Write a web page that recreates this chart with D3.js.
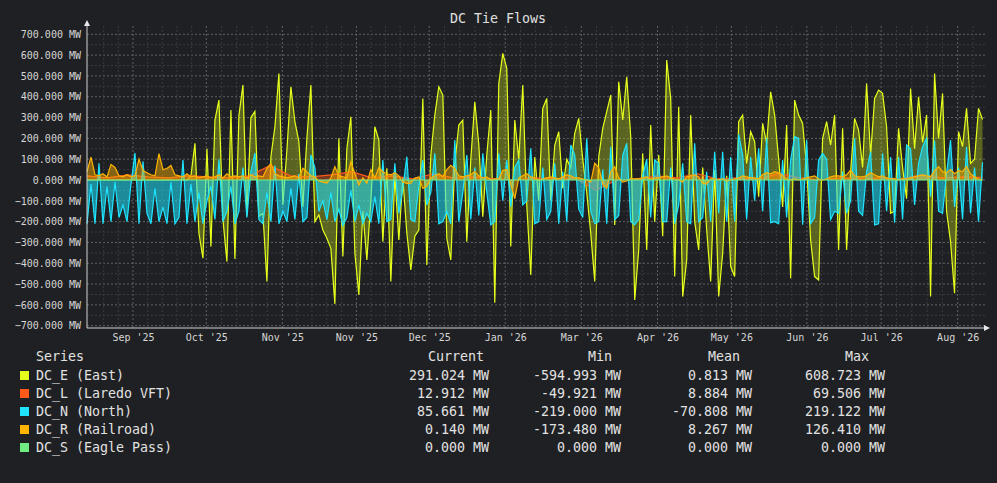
<!DOCTYPE html>
<html>
<head>
<meta charset="utf-8">
<title>DC Tie Flows</title>
<script src="https://cdn.jsdelivr.net/npm/d3@7"></script>
<style>
    html, body { margin: 0; padding: 0; background: #1f2023; }
    svg { display: block; font-family: "DejaVu Sans Mono", monospace; }
    .axis path { display: none; }
    .axis text { fill: #d6d6d6; font-size: 10px; font-family: "DejaVu Sans Mono", monospace; }
</style>
</head>
<body>
<svg id="chart"></svg>
<script>
// series, one sample about every 4px (DC_L coarser, DC_S flat)
const dcE = [
    0, 0, 0, 0, 0, 0, 0, 0, 0, 0, 0, 0, 0, 0, 0, 0, 0, 0, 0, 0, 0, 0, 0, 0, 0, 0,
    20, 176, -256, -376, 150, -320, 288, 384, -190, -392, 336, -380,
    310, 456, -170, 300, 330, -175, -160, -488, 112, 256,
    512, -120, 144, 448, 280, 184, -128, 200, 456, -200,
    -168, -240, -280, -328, -594.993, 200, -368, 150, 304, -352,
    -552, -150, -384, -100, 256, 192, -296, 56,
    -488, 20, -288, 10, -256, -432, -270, -240, 392, -408,
    120, 312, 448, 408, -280, -384, 80, 264, 288, -296,
    100, 376, 170, -176, 120, 336, -590, 464, 608.723, 536,
    -320, 288, 100, 456, -120, -456, 110,
    -100, 344, 392, -100, 168, 232, -40, 100, 60, 224,
    296, 100, -60, -256, -488, 112, 248, 328, 408, -216,
    472, 288, 496, 208, -576, -336, 128, -336, 264, -200,
    120, -270, 576, 392, -464, 352, -560, -384,
    312, -200, -336, 60, -240, -488, 48, -560, -352, 20,
    -416, -464, 280, 312, 80, 232, 184, -80, 272, 176,
    424, 312, 100, -130, 264, -472, 384, 312, 272, 64,
    -288, -464, -480, 200, 280, 168, 312,
    -336, 248, -336, 40, 296, 240, 60, 464, 120, 392,
    432, 416, 256, -160, -150, 248, 60, -90, 440, 150,
    400, 180, 312, -560, 512, 200, 416, -150, -296, -544,
    232, 160, 344, 80, 100, 344, 291.024
];
const dcL = [
    20, 10, 25, 15, 10, 20, 15, 10, 20, 69.506,
    20, 15, 25, 40, 10, 20, 5, 30, 10, 15,
    5, 0, 10, 5, 10, -49.921, 0, 5, 20, 10,
    30, 5, 10, 5, 32, 10, 0, 10, 5, 10,
    5, 25, 10, 15, 12.912
];
const dcN = [
    -210, -20, -210, 80, -210, -30, -200, -10, -180, -120,
    -200, -20, 130, -210, 90, -160, -210, -40, -200, -130,
    -210, -10, -210, -180, 96, -210, -20, -200, -60, -210,
    -100, -30, -190, 100, -200, -150, -30, -210,
    -150, 60, -180, 40, 130, -190, -210, -60, -200, 70,
    -210, -150, -200, -40, -190, 30, -200, -180, 120, 60,
    -150, -100, -190, -60, -200, -140, -219, -180, -50, -200,
    -120, -210, -160, -200, -80, -210, 96, -200,
    -190, 80, -160, -40, 112, -190, -200, -30, 96, -120,
    -60, 128, -210, -200, -150, -210, 192, -200, -60, 120,
    -190, 60, -170, 128, -60, -216, -200, 128, -100, 96,
    -130, 60, 96, -120, -100, 152, -210,
    -200, 60, -190, -150, 80, -210, 40, -200, 168, 120,
    -140, -180, 200, -150, -210, -200, 50, -210, 160, -190,
    -170, 120, 176, -200, -215, -190, 20, 100, -180, 96,
    80, -200, -200, 60, -210, -120, 80, -200,
    -210, 176, -200, -180, 40, -200, 136, -160, 136, -200,
    110, -200, 219.122, 120, -190, 110, -100, 152, -150, 200,
    -205, -200, -210, 96, -180, 96, 208, 200, -215, 192,
    -210, -180, 96, 128, 100, -190, -150,
    -160, 40, -160, -100, 200, -150, -170, 40, 136, -216,
    -210, 128, -150, 110, -205, 110, -190, 168, 150, -120,
    80, 160, 200, -80, 190, -150, -160, 30, 192, -130,
    60, -190, 160, -160, 60, -200, 85.661
];
const dcR = [
    40, 110, 25, 20, 30, 15, 75, 60, 20, 15,
    25, 15, 20, 100, 45, 35, 25, 20, 126.41, 50,
    55, 70, 25, 20, 15, 30, 15, 20, 10, 15,
    20, 10, 15, 25, 10, 30, 15, 20,
    15, 20, 10, 25, 15, 20, 15, 55, 80, 30,
    20, 15, 10, 15, 20, 10, 56, 40, 20, 15,
    -5, -10, -15, 10, 64, 20, 15, 10, 88, 30,
    -24, 10, -15, 50, 10, 60, 40, 30,
    25, 35, 20, -10, -16, -15, 10, 15, -40, -30,
    10, 20, 30, 15, 50, 70, 55, 20, 15, 20,
    25, 40, 20, 10, 15, 0, 5, 5, 45, 50,
    -20, -90, 10, 20, 30, 15, 10,
    0, 5, 10, 15, 10, 5, 15, 25, 20, 10,
    10, 5, 0, -10, 80, 60, -20, -40, 40, 64,
    10, -10, -5, 5, 5, 5, 10, 15, 5, 10,
    10, 15, 20, 10, 5, 0, -10, 15,
    20, 25, 15, -16, -20, 5, 5, 0, 5, -5,
    0, 5, 10, 20, 15, 10, 10, 5, 25, 35,
    30, 40, 35, 20, 5, 0, 5, 0, 5, 10,
    15, 20, 5, 0, 5, 15, 20,
    20, 15, 25, 48, 20, 15, 15, 20, 35, 25,
    15, 20, 10, 5, 5, 0, 5, 5, 10, 15,
    20, 25, 20, 15, 45, 64, 40, 35, 50, 30,
    45, 40, 64, 30, 15, 5, 0.14
];
const dcS = [0, 0];

const seriesNames = ["DC_E (East)", "DC_L (Laredo VFT)", "DC_N (North)", "DC_R (Railroad)", "DC_S (Eagle Pass)"];
const seriesCurrent = ["291.024 MW", "12.912 MW", "85.661 MW", "0.140 MW", "0.000 MW"];
const seriesMin = ["-594.993 MW", "-49.921 MW", "-219.000 MW", "-173.480 MW", "0.000 MW"];
const seriesMean = ["0.813 MW", "8.884 MW", "-70.808 MW", "8.267 MW", "0.000 MW"];
const seriesMax = ["608.723 MW", "69.506 MW", "219.122 MW", "126.410 MW", "0.000 MW"];

// x axis is in days from the start of the window
const spanDays = 364;
const tickDays = [18.7, 48.5, 79.4, 109.5, 139.1, 170.0, 200.9, 231.9, 261.9, 292.6, 322.8, 353.9];
const tickLabels = ["Sep '25", "Oct '25", "Nov '25", "Nov '25", "Dec '25", "Jan '26", "Mar '26", "Apr '26", "May '26", "Jun '26", "Jul '26", "Aug '26"];
const yTickValues = [-700, -600, -500, -400, -300, -200, -100, 0, 100, 200, 300, 400, 500, 600, 700];
const yMinorValues = [-650, -550, -450, -350, -250, -150, -50, 50, 150, 250, 350, 450, 550, 650];

const seriesColors = ["#e6ff1c", "#ff5a1a", "#1ee4ff", "#ffb400", "#6fec82"];
const seriesFill = [0.3, 0.4, 0.55, 0.45, 0.4];

class TieFlowChart {
    constructor(_config, _series) {
        this.config = {
            parentElement: _config.parentElement,
            containerWidth: _config.containerWidth || 997,
            containerHeight: _config.containerHeight || 483
        };
        this.series = _series;
        this.initVis();
    }

    initVis() {
        let vis = this;

        vis.svg = d3.select(vis.config.parentElement)
            .attr('width', vis.config.containerWidth)
            .attr('height', vis.config.containerHeight);

        vis.svg.append('rect')
            .attr('width', vis.config.containerWidth)
            .attr('height', vis.config.containerHeight)
            .attr('fill', '#1f2023');

        vis.left = 87;
        vis.right = 985;
        vis.top = 26;
        vis.bottom = 328;

        vis.xScale = d3.scaleLinear().domain([0, 365]).range([vis.left, vis.right]);
        vis.yScale = d3.scaleLinear().domain([-700, 700]).range([325.7, 34.3]);

        // grid: minor first, then major dotted lines
        let grid = vis.svg.append('g').attr('class', 'grid');

        grid.selectAll('.hminor')
            .data(yMinorValues)
            .enter().append('line')
            .attr('x1', vis.left).attr('x2', vis.right)
            .attr('y1', d => vis.yScale(d)).attr('y2', d => vis.yScale(d))
            .attr('stroke', '#3a3b3e').attr('stroke-dasharray', '2,2');

        grid.selectAll('.hmajor')
            .data(yTickValues)
            .enter().append('line')
            .attr('x1', vis.left).attr('x2', vis.right)
            .attr('y1', d => vis.yScale(d)).attr('y2', d => vis.yScale(d))
            .attr('stroke', '#606165').attr('stroke-dasharray', '2,2');

        // minor verticals: five steps per month tick
        let minorDays = [];
        for (let i = 0; i < tickDays.length; i++) {
            let step = (i < tickDays.length - 1 ? tickDays[i + 1] - tickDays[i] : tickDays[i] - tickDays[i - 1]) / 5;
            for (let k = 1; k < 5; k++) minorDays.push(tickDays[i] + k * step);
            if (i === 0) { minorDays.push(tickDays[0] - step, tickDays[0] - 2 * step); }
        }
        minorDays = minorDays.filter(d => vis.xScale(d) > vis.left + 4 && vis.xScale(d) < vis.right - 2);

        grid.selectAll('.vminor')
            .data(minorDays)
            .enter().append('line')
            .attr('x1', d => vis.xScale(d)).attr('x2', d => vis.xScale(d))
            .attr('y1', vis.top).attr('y2', vis.bottom)
            .attr('stroke', '#3a3b3e').attr('stroke-dasharray', '2,2');

        grid.selectAll('.vmajor')
            .data(tickDays)
            .enter().append('line')
            .attr('x1', d => vis.xScale(d)).attr('x2', d => vis.xScale(d))
            .attr('y1', vis.top).attr('y2', vis.bottom)
            .attr('stroke', '#606165').attr('stroke-dasharray', '2,2');

        // series: filled area from zero plus a 1px line
        let plot = vis.svg.append('g').attr('class', 'plot');
        vis.series.forEach(function(values, s) {
            let n = values.length;
            let pts = values.map((v, i) => ({ day: i * spanDays / (n - 1), v: v }));

            let area = d3.area()
                .x(d => vis.xScale(d.day))
                .y0(vis.yScale(0))
                .y1(d => vis.yScale(d.v));
            let line = d3.line()
                .x(d => vis.xScale(d.day))
                .y(d => vis.yScale(d.v));

            plot.append('path')
                .datum(pts)
                .attr('d', area)
                .attr('fill', seriesColors[s])
                .attr('fill-opacity', seriesFill[s]);
            plot.append('path')
                .datum(pts)
                .attr('d', line)
                .attr('fill', 'none')
                .attr('stroke', seriesColors[s])
                .attr('stroke-width', 1.2);
        });

        // axes
        vis.yAxis = d3.axisLeft(vis.yScale)
            .tickValues(yTickValues)
            .tickSize(0)
            .tickPadding(6)
            .tickFormat(d => d3.format('.3f')(d) + ' MW');
        vis.svg.append('g')
            .attr('class', 'axis y-axis')
            .attr('transform', `translate(${vis.left},0)`)
            .call(vis.yAxis);

        vis.xAxis = d3.axisBottom(vis.xScale)
            .tickValues(tickDays)
            .tickSize(0)
            .tickPadding(6)
            .tickFormat((d, i) => tickLabels[i]);
        vis.svg.append('g')
            .attr('class', 'axis x-axis')
            .attr('transform', `translate(0,${vis.bottom})`)
            .call(vis.xAxis);

        // axis lines with arrow heads
        vis.svg.append('line')
            .attr('x1', vis.left).attr('x2', vis.left)
            .attr('y1', vis.bottom).attr('y2', 23)
            .attr('stroke', '#d0d0d0');
        vis.svg.append('path')
            .attr('d', `M${vis.left - 3},26L${vis.left + 3},26L${vis.left},20Z`)
            .attr('fill', '#e8e8e8');
        vis.svg.append('line')
            .attr('x1', vis.left).attr('x2', 986)
            .attr('y1', vis.bottom).attr('y2', vis.bottom)
            .attr('stroke', '#d0d0d0');
        vis.svg.append('path')
            .attr('d', `M984,${vis.bottom - 3}L984,${vis.bottom + 3}L990,${vis.bottom}Z`)
            .attr('fill', '#e8e8e8');

        // title
        vis.svg.append('text')
            .attr('x', 498).attr('y', 23)
            .attr('text-anchor', 'middle')
            .attr('fill', '#e0e0e0')
            .attr('font-size', '13.3px')
            .text('DC Tie Flows');

        vis.renderLegend();
    }

    renderLegend() {
        let vis = this;
        let legend = vis.svg.append('g')
            .attr('class', 'legend')
            .attr('font-size', '13.3px')
            .attr('fill', '#e2e2e2');

        legend.append('text').attr('x', 36).attr('y', 361).text('Series');
        let headers = ['Current', 'Min', 'Mean', 'Max'];
        let headerX = [456, 600, 724, 857];
        headers.forEach((h, i) => {
            legend.append('text')
                .attr('x', headerX[i]).attr('y', 361)
                .attr('text-anchor', 'middle')
                .text(h);
        });

        let cols = [seriesCurrent, seriesMin, seriesMean, seriesMax];
        let colRight = [489, 621, 752, 885];

        let rows = legend.selectAll('.row')
            .data(seriesNames)
            .enter().append('g')
            .attr('class', 'row')
            .attr('transform', (d, i) => `translate(0,${379.5 + i * 18})`);

        rows.append('rect')
            .attr('x', 20).attr('y', -8.5)
            .attr('width', 9).attr('height', 9)
            .attr('fill', (d, i) => seriesColors[i]);

        rows.append('text')
            .attr('x', 36)
            .text(d => d);

        cols.forEach((col, c) => {
            rows.append('text')
                .attr('x', colRight[c])
                .attr('text-anchor', 'end')
                .text((d, i) => col[i]);
        });
    }
}

let chart = new TieFlowChart({ parentElement: '#chart' }, [dcE, dcL, dcN, dcR, dcS]);
</script>
</body>
</html>
